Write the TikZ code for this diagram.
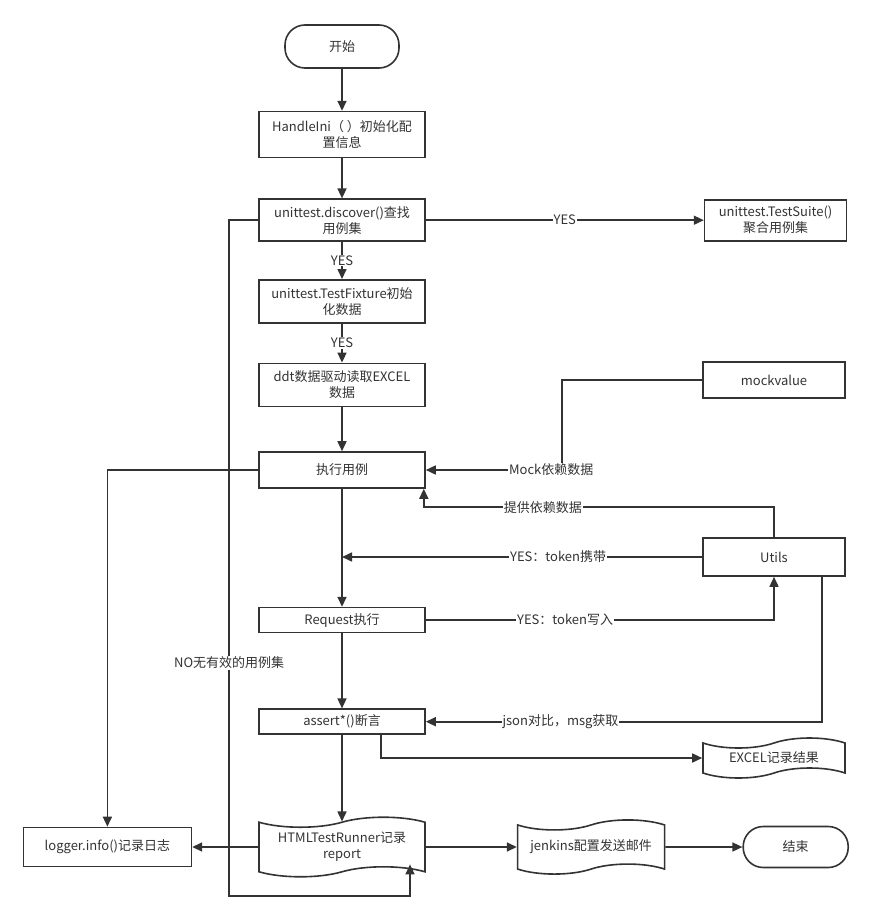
\documentclass[tikz,border=0pt]{standalone}
\usepackage{fontspec}
\setmainfont{Noto Sans CJK SC}
\usepackage{xcolor}
\usetikzlibrary{shapes.symbols, arrows.meta, positioning, calc}
\definecolor{ink}{HTML}{333333}

\begin{document}
\begin{tikzpicture}[x=1pt, y=-1pt, node distance=40pt, font=\fontsize{13}{16}\selectfont, text=ink]
        % Styles
        \tikzstyle{block} = [rectangle, draw=ink, line width=1.6pt, minimum width=166pt, minimum height=43pt, align=center, inner sep=2pt]
        \tikzstyle{term} = [block, rounded corners=20pt, minimum width=114pt]
        \tikzstyle{doc} = [tape, draw=ink, line width=1.6pt, align=center, tape bend height=10pt, minimum width=142pt, inner xsep=2pt]
        \tikzstyle{line} = [draw=ink, line width=1.6pt, -{Triangle[length=10pt,width=9pt]}]
        \tikzstyle{lbl} = [fill=white, inner sep=1pt]

        \useasboundingbox (0,0) rectangle (870,920);

        % Nodes
        \node [term] (start) at (342,46.5) {开始};
        \node [block, minimum height=46pt, below=42pt of start] (handle) {HandleIni（ ）初始化配\\置信息};
        \node [block, minimum height=42pt, below=40pt of handle] (discover) {unittest.discover()查找\\用例集};
        \node [block, below=37pt of discover] (fixture) {unittest.TestFixture初始\\化数据};
        \node [block, below=39pt of fixture] (ddt) {ddt数据驱动读取EXCEL\\数据};
        \node [block, minimum height=36pt, below=44pt of ddt] (exec) {执行用例};
        \node [block, minimum height=25pt, below=118pt of exec] (request) {Request执行};
        \node [block, minimum height=25pt, below=75pt of request] (assert) {assert*()断言};
        \node [doc, minimum width=166pt, inner ysep=5pt] (html) at (342,847) {HTMLTestRunner记录\\report};
        \node [block, minimum width=142pt, minimum height=41pt, right=278pt of discover] (suite) {unittest.TestSuite()\\聚合用例集};
        \node [block, minimum width=142pt, minimum height=36pt] (mock) at (774,380) {mockvalue};
        \node [block, minimum width=142pt, minimum height=38pt] (utils) at (774,557) {Utils};
        \node [doc, inner ysep=4pt] (excel) at (774,758) {EXCEL记录结果};
        \node [doc, minimum width=147pt, inner ysep=10pt, right=91pt of html] (jenkins) {jenkins配置发送邮件};
        \node [block, minimum width=168pt, minimum height=39pt, left=66pt of html] (logger) {logger.info()记录日志};
        \node [term, minimum width=105pt, minimum height=41pt, right=77pt of jenkins] (stop) {结束};

        % Paths
        \path [line] (start) -- (handle);
        \path [line] (handle) -- (discover);
        \path [line] (discover) -- node[lbl] {YES} (suite);
        \path [line] (discover) -- node[lbl] {YES} (fixture);
        \path [line] (fixture) -- node[lbl] {YES} (ddt);
        \path [line] (ddt) -- (exec);
        \path [line] (mock.west) -- ++(-140,0) |- node[lbl, pos=0.54] {Mock依赖数据} (exec.east);
        \path [line] (utils.north) -- ++(0,-30) -| node[lbl, pos=0.33] {提供依赖数据} ($(exec.south east)+(-2,0)$);
        \path [line] (exec) -- (request);
        \coordinate (carry) at (exec |- utils);
        \path [line] (utils.west) -- node[lbl, pos=0.4] {YES：token携带} (carry);
        \path [line] (request.east) -| node[lbl, pos=0.2] {YES：token写入} (utils.south);
        \path [line] (request) -- (assert);
        \path [line] ($(utils.south)+(48,0)$) |- node[lbl, pos=0.83] {json对比，msg获取} (assert.east);
        \path [line] ($(assert.south)+(39,0)$) |- (excel.west);
        \path [line] (assert) -- (html);
        \path [line] (exec.west) -| (logger.north);
        \path [line] (html.west) -- (logger.east);
        \path [line] (discover.west) -- ++(-29,0) -- node[lbl, pos=0.655] {NO无有效的用例集} ++(0,676) -| ($(html.south)+(68,-8)$);
        \path [line] (html) -- (jenkins);
        \path [line] (jenkins) -- (stop);
    \end{tikzpicture}
\end{document}
